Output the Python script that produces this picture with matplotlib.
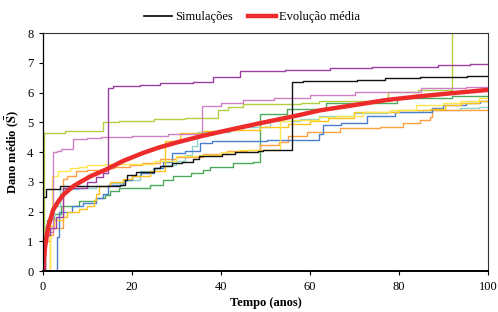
import matplotlib
matplotlib.use("Agg")
import matplotlib.pyplot as plt
from matplotlib.lines import Line2D

# ------------------------------------------------------------
# Data
# ------------------------------------------------------------

black_t = [0, 0.7, 3.8, 17.3, 18.4, 18.8, 20.9, 24.9, 26.3, 28.9, 31.2, 33.7, 35.0,
           40.2, 43.1, 48.3, 49.5, 55.9, 58.5, 70.5, 76.9, 84.7, 95.2, 100]
black_d = [2.5, 2.75, 2.87, 2.9, 3.07, 3.24, 3.32, 3.46, 3.52, 3.63, 3.68, 3.77, 3.88,
           3.93, 3.99, 4.04, 4.08, 6.37, 6.4, 6.43, 6.48, 6.52, 6.55, 6.55]

purple_t = [0, 0.4, 1.5, 3.0, 4.5, 10, 12, 13.5, 14.6, 15.8, 21.8, 26.3, 33.7, 38.2,
            44.3, 54.4, 64.5, 73.9, 88.8, 96, 100]
purple_d = [0, 1.2, 1.45, 1.8, 2.8, 3.0, 3.15, 3.3, 6.15, 6.22, 6.27, 6.32, 6.37, 6.52,
            6.71, 6.76, 6.82, 6.87, 6.93, 6.95, 6.95]

pink_t = [0, 0.5, 2.3, 3.2, 4.0, 6.8, 10, 13, 20, 28, 35.7, 40, 45, 52, 60, 70, 85, 95, 100]
pink_d = [0, 1.3, 3.99, 4.05, 4.1, 4.43, 4.47, 4.5, 4.55, 4.6, 5.55, 5.66, 5.75, 5.82,
          5.92, 6.03, 6.15, 6.2, 6.2]

lime_t = [0, 0.3, 5, 13.5, 17, 25, 32, 39.4, 41.6, 45, 58, 62, 77.5, 84.3, 91.8, 100]
lime_d = [0, 4.65, 4.72, 5.0, 5.05, 5.1, 5.15, 5.42, 5.53, 5.6, 5.65, 5.7, 6.01, 6.09,
          9.0, 9.0]

green_t = [0, 0.2, 1, 2.5, 4, 8, 12, 14, 15, 17, 24, 27, 29.3, 33.3, 36, 37.5, 42.7,
           47.2, 48.8, 54.8, 63.7, 79.5, 92, 100]
green_d = [0, 1.3, 1.7, 1.9, 2.2, 2.35, 2.45, 2.55, 2.7, 2.79, 2.9, 3.05, 3.18, 3.3,
           3.4, 3.5, 3.63, 3.68, 5.28, 5.45, 5.64, 5.81, 5.87, 5.89]

blue_t = [0, 3.1, 3.7, 6.5, 9, 12, 13.5, 14.7, 18, 20, 22, 25, 27, 29, 32, 35.3, 38,
          50.3, 62, 63, 67, 72.7, 79, 87.3, 89.9, 95, 98.2, 100]
blue_d = [0, 1.15, 2.0, 2.2, 2.3, 2.45, 2.6, 2.9, 3.05, 3.2, 3.3, 3.45, 3.68, 3.97,
          4.05, 4.3, 4.36, 4.41, 4.6, 4.92, 4.96, 5.2, 5.36, 5.48, 5.59, 5.65, 5.73, 5.73]

cyan_t = [0, 0.5, 1.6, 2.5, 3.8, 8, 12, 15, 18.4, 21.9, 24.8, 27, 30, 32, 33.5, 34.5,
          42, 45, 51, 57.8, 62, 69.8, 77.2, 85.4, 93.7, 98, 100]
cyan_d = [0, 1.5, 1.84, 2.17, 2.77, 2.8, 2.87, 2.96, 3.07, 3.35, 3.45, 3.55, 3.7, 3.9,
          4.2, 4.66, 4.75, 4.85, 5.03, 5.1, 5.2, 5.31, 5.36, 5.42, 5.48, 5.53, 5.53]

orange_t = [0, 0.5, 1.5, 2.2, 4.6, 5.5, 7.5, 10, 14, 16, 19.6, 22.2, 26.3, 30, 36,
            41.3, 45.8, 48.8, 53, 55, 59.3, 66.7, 75.7, 81, 84.7, 87, 87.5, 100]
orange_d = [0, 1.0, 1.2, 1.45, 3.1, 3.2, 3.35, 3.4, 3.45, 3.5, 3.57, 3.63, 3.77, 3.82,
            3.93, 4.02, 4.07, 4.24, 4.35, 4.55, 4.69, 4.8, 4.85, 4.97, 5.08, 5.19, 5.42,
            5.42]

yellow_t = [0, 1.6, 2.0, 3.4, 6, 8, 10, 14, 25, 30, 35, 40, 44, 53.3, 56, 62, 66, 72,
            78, 83.9, 89.9, 93.7, 98, 100]
yellow_d = [0, 1.8, 3.2, 3.35, 3.45, 3.5, 3.55, 3.6, 3.7, 3.85, 3.91, 4.0, 4.08, 5.03,
            5.08, 5.17, 5.22, 5.33, 5.4, 5.59, 5.64, 5.72, 5.81, 5.81]

gold_t = [0, 1.5, 2.5, 4.5, 5.5, 8, 10, 11.5, 12, 12.5, 15, 18, 20, 24, 27.4, 30.8,
          36, 42, 48.8, 55, 60, 64, 69.8, 80, 87, 90.3, 94, 98, 100]
gold_d = [0, 1.5, 1.7, 1.8, 2.0, 2.1, 2.2, 2.4, 2.6, 2.85, 3.0, 3.1, 3.2, 3.35, 4.36,
          4.64, 4.7, 4.75, 4.85, 4.95, 5.05, 5.14, 5.36, 5.4, 5.45, 5.59, 5.66, 5.7, 5.7]

mean_t = [0, 0.2, 0.5, 1.2, 2.3, 3.5, 4.6, 6.8, 8.5, 10.6, 14.3, 18, 22.5, 26, 30, 36,
          42, 48.8, 53, 57.8, 62.2, 70, 77.2, 85, 92, 100]
mean_d = [0, 0.4, 0.85, 1.5, 2.06, 2.35, 2.57, 2.85, 3.0, 3.18, 3.42, 3.7, 3.97, 4.15,
          4.32, 4.55, 4.75, 4.97, 5.1, 5.25, 5.4, 5.58, 5.75, 5.88, 5.98, 6.09]

simulations = [
    (green_t, green_d, "#4daa5a"),
    (cyan_t, cyan_d, "#8fd3d0"),
    (orange_t, orange_d, "#ffa040"),
    (blue_t, blue_d, "#4a7fcf"),
    (gold_t, gold_d, "#ffc21a"),
    (yellow_t, yellow_d, "#ffe64d"),
    (lime_t, lime_d, "#b5cf45"),
    (pink_t, pink_d, "#cf80c4"),
    (purple_t, purple_d, "#9b3fa3"),
    (black_t, black_d, "#111111"),
]

# ------------------------------------------------------------
# Plot
# ------------------------------------------------------------

plt.rcParams["font.family"] = ["Liberation Serif", "DejaVu Serif"]
plt.rcParams["mathtext.fontset"] = "stix"

fig = plt.figure(figsize=(4.98, 3.12), dpi=100)
ax = fig.add_axes([0.0863, 0.1314, 0.8937, 0.7626])

for t, d, c in simulations:
    ax.step(t, d, where="post", color=c, linewidth=1.0)

ax.plot(mean_t, mean_d, color="#ee2b2b", linewidth=3.2, solid_capstyle="round")

ax.set_xlim(0, 100)
ax.set_ylim(0, 8)
ax.set_xticks([0, 20, 40, 60, 80, 100])
ax.set_yticks(range(0, 9))
ax.tick_params(direction="out", length=3, width=0.8, labelsize=9, pad=4)

for side in ["top", "right"]:
    ax.spines[side].set_color("#333333")
    ax.spines[side].set_linewidth(0.8)
ax.spines["left"].set_linewidth(0.9)
ax.spines["bottom"].set_linewidth(1.4)

ax.set_xlabel("Tempo (anos)", fontsize=9, fontweight="bold", labelpad=3)
ax.set_ylabel(r"Dano médio ($\mathbf{\bar{S}}$)", fontsize=9, fontweight="bold",
              labelpad=4)

handles = [
    Line2D([], [], color="black", linewidth=1.2),
    Line2D([], [], color="#ee2b2b", linewidth=3.2),
]
ax.legend(handles, ["Simulações", "Evolução média"], loc="center",
          bbox_to_anchor=(0.47, 1.067), ncol=2, frameon=False, fontsize=9,
          handlelength=2.2, handletextpad=0.3, columnspacing=1.2)

fig.savefig("out.png", dpi=100)
